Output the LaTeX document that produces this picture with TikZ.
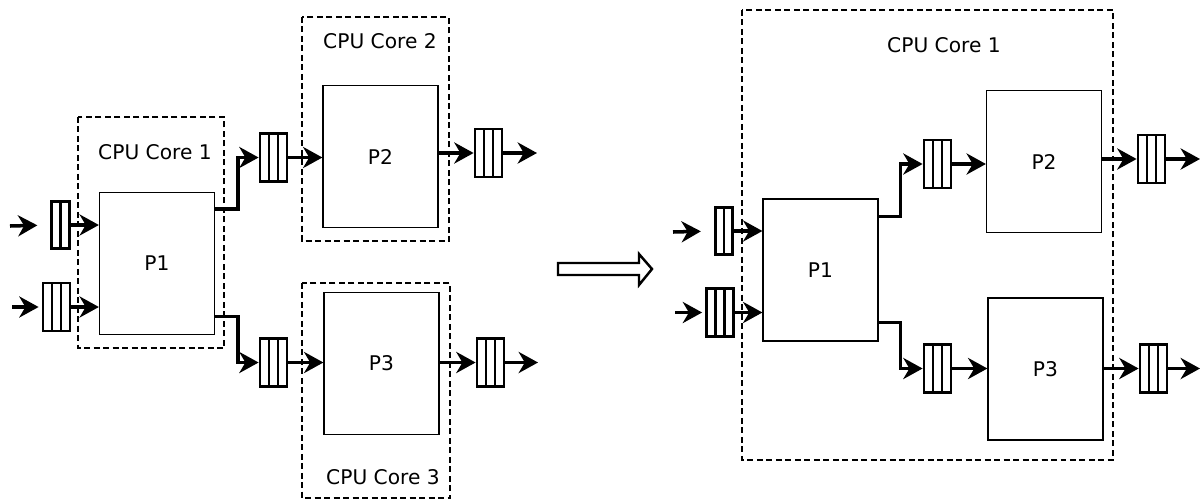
\documentclass[tikz,border=0pt]{standalone}
\usepackage{fontspec}
\setmainfont{DejaVu Sans}
\usetikzlibrary{arrows.meta,calc}

\tikzset{
  proc/.style={draw, line width=0.7pt, minimum width=2.3cm, minimum height=2.84cm, inner sep=0},
  qcells/.style={path picture={
    \foreach \pos in {#1}
      \draw[line width=1.6pt] ($(path picture bounding box.north west)!\pos!(path picture bounding box.north east)$)
        -- ($(path picture bounding box.south west)!\pos!(path picture bounding box.south east)$);}},
  queue/.style={draw, line width=1.6pt, minimum width=0.54cm, minimum height=0.96cm, inner sep=0, qcells={0.333,0.667}},
  smallqueue/.style={draw, line width=1.6pt, minimum width=0.35cm, minimum height=0.94cm, inner sep=0, qcells={0.5}},
  core/.style={line width=1.2pt, dash pattern=on 3.4pt off 2pt},
  flow/.style={line width=2pt, -{Stealth[length=11pt, width=12pt, inset=3.5pt]}}
}

\begin{document}
\begin{tikzpicture}[x=0.02cm, y=-0.02cm, font=\fontsize{11.5}{13}\selectfont]
\useasboundingbox (0,0) rectangle (1202,501);

\draw[core] (78,117) rectangle (224,348);
\node (l1) at (155,152) {CPU Core 1};
\node[proc] (p1) at (157,263.5) {P1};
\node[smallqueue] (qa) at (60.5,225) {};
\node[queue] (qb) at (56.5,307) {};
\coordinate (ina) at (10,226);
\coordinate (inb) at (12,307);
\draw[flow, shorten >=0.26cm] (ina) -- (qa.west);
\draw[flow, shorten >=0.06cm] (inb) -- (qb.west);
\draw[flow] (qa.east) -- (qa.east -| p1.west);
\draw[flow] (qb.east) -- (qb.east -| p1.west);

\draw[core] (302,17) rectangle (449,241);
\node (l2) at (380,41) {CPU Core 2};
\node[proc] (p2) at (380.5,156.5) {P2};
\node[queue] (qc) at (273.5,157.5) {};
\node[queue] (qd) at (488.5,153) {};
\coordinate (outd) at (537,153);
\draw[flow] ($(p1.north east)!0.12!(p1.south east)$) -- ++(23,0) |- (qc.west);
\draw[flow] (qc.east) -- (qc.east -| p2.west);
\draw[flow] (p2.east |- qd.west) -- (qd.west);
\draw[flow] (qd.east) -- (outd);

\draw[core] (302,283) rectangle (450,498);
\node (l3) at (383,477) {CPU Core 3};
\node[proc] (p3) at (381.5,363.5) {P3};
\node[queue] (qe) at (273.5,362.5) {};
\node[queue] (qf) at (490.5,362.5) {};
\coordinate (outf) at (538,362.5);
\draw[flow] ($(p1.north east)!0.87!(p1.south east)$) -- ++(23,0) |- (qe.west);
\draw[flow] (qe.east) -- (qe.east -| p3.west);
\draw[flow] (p3.east |- qf.west) -- (qf.west);
\draw[flow] (qf.east) -- (outf);

\draw[line width=1.4pt, line join=miter] (558,263) -- (639,263) -- (639,254) -- (652,269)
  -- (639,285) -- (639,275) -- (558,275) -- cycle;

\draw[core] (742,10) rectangle (1113,460);
\node (r1) at (944,45) {CPU Core 1};
\node[proc] (rp1) at (820.5,270) {P1};
\node[smallqueue] (qg) at (724,231) {};
\node[queue] (qh) at (720,312.5) {};
\coordinate (ing) at (673,232);
\coordinate (inh) at (675,312.5);
\draw[flow, shorten >=0.26cm] (ing) -- (qg.west);
\draw[flow, shorten >=0.06cm] (inh) -- (qh.west);
\draw[flow] (qg.east) -- (qg.east -| rp1.west);
\draw[flow] (qh.east) -- (qh.east -| rp1.west);

\node[proc] (rp2) at (1044,161.5) {P2};
\node[queue] (qi) at (937.5,164) {};
\node[queue] (qj) at (1151.5,159) {};
\coordinate (outj) at (1200,159);
\draw[flow] ($(rp1.north east)!0.127!(rp1.south east)$) -- ++(22,0) |- (qi.west);
\draw[flow] (qi.east) -- (qi.east -| rp2.west);
\draw[flow] (rp2.east |- qj.west) -- (qj.west);
\draw[flow] (qj.east) -- (outj);

\node[proc] (rp3) at (1045.5,369) {P3};
\node[queue] (qk) at (937.5,368.5) {};
\node[queue] (ql) at (1153.5,368.5) {};
\coordinate (outl) at (1200,368.5);
\draw[flow] ($(rp1.north east)!0.866!(rp1.south east)$) -- ++(22,0) |- (qk.west);
\draw[flow] (qk.east) -- (qk.east -| rp3.west);
\draw[flow] (rp3.east |- ql.west) -- (ql.west);
\draw[flow] (ql.east) -- (outl);
\end{tikzpicture}
\end{document}
